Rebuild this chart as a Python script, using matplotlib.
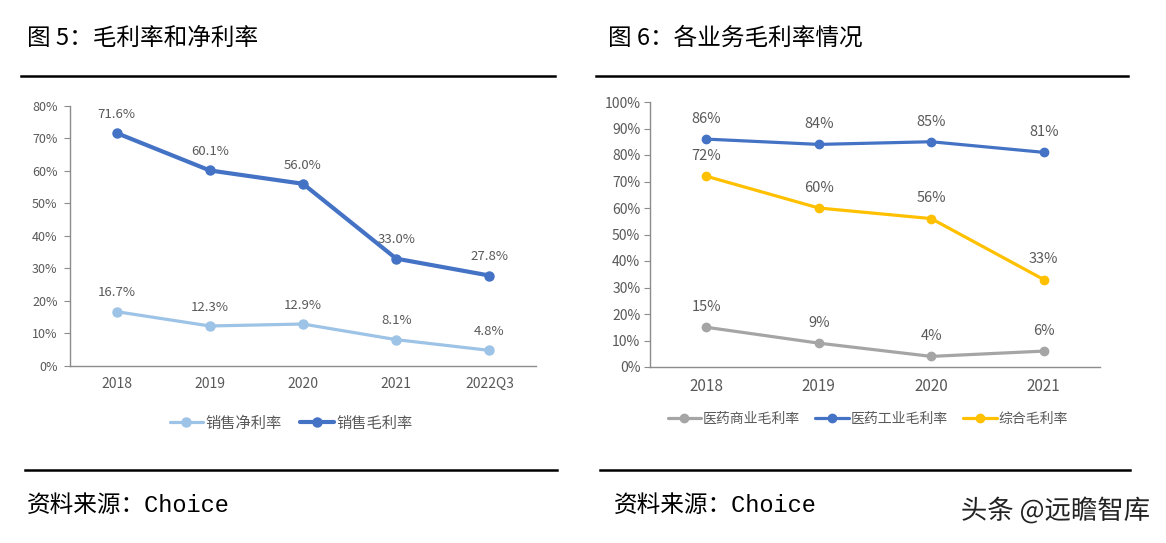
import matplotlib
matplotlib.use('Agg')
import matplotlib.pyplot as plt
from matplotlib.lines import Line2D
from matplotlib.ticker import PercentFormatter
import matplotlib.patheffects as pe

plt.rcParams['font.family'] = ['Noto Sans CJK SC', 'DejaVu Sans']

# left chart: 毛利率和净利率
years_left = ['2018', '2019', '2020', '2021', '2022Q3']
net_margin = [16.7, 12.3, 12.9, 8.1, 4.8]
gross_margin = [71.6, 60.1, 56.0, 33.0, 27.8]

# right chart: 各业务毛利率
years_right = ['2018', '2019', '2020', '2021']
commerce_margin = [15, 9, 4, 6]
industry_margin = [86, 84, 85, 81]
overall_margin = [72, 60, 56, 33]

LABEL_GREY = '#595959'
SPINE_GREY = '#8C8C8C'


def StyleAxes(ax, ymax, step, ytick_size, xtick_size, ypad):
    ax.set_ylim(0, ymax)
    ax.set_yticks(range(0, ymax + 1, step))
    ax.yaxis.set_major_formatter(PercentFormatter(decimals=0))
    for side in ['top', 'right']:
        ax.spines[side].set_visible(False)
    for side in ['left', 'bottom']:
        ax.spines[side].set_color(SPINE_GREY)
        ax.spines[side].set_linewidth(1.0)
    ax.tick_params(axis='y', length=4, color=SPINE_GREY, labelsize=ytick_size, labelcolor=LABEL_GREY, pad=ypad)
    ax.tick_params(axis='x', length=0, labelsize=xtick_size, labelcolor=LABEL_GREY, pad=8)


def DrawSeries(ax, cats, values, color, lw, ms, fmt, label, label_size, offset):
    x = list(range(len(cats)))
    ax.plot(x, values, color=color, lw=lw, marker='o', ms=ms, label=label,
            solid_capstyle='round')
    for xi, v in zip(x, values):
        ax.annotate(fmt.format(v), (xi, v), xytext=(0, offset), textcoords='offset points',
                    ha='center', va='center', fontsize=label_size, color=LABEL_GREY)


fig = plt.figure(figsize=(11.66, 5.43), dpi=100)

# left panel
axL = fig.add_axes([70 / 1166, 1 - 366 / 543, 466 / 1166, (366 - 105.7) / 543])
DrawSeries(axL, years_left, net_margin, '#9DC3E6', 2.3, 6.5, '{:.1f}%', '销售净利率', 9.5, 13.5)
DrawSeries(axL, years_left, gross_margin, '#4472C4', 3.0, 6.5, '{:.1f}%', '销售毛利率', 9.5, 13.5)
axL.set_xlim(-0.5, len(years_left) - 0.5)
axL.set_xticks(range(len(years_left)))
axL.set_xticklabels(years_left)
StyleAxes(axL, 80, 10, 9, 10, 5)
axL.legend(loc='center', bbox_to_anchor=(0.474, -0.219), ncol=2, frameon=False,
           fontsize=11, handlelength=2.2, handletextpad=0.15, columnspacing=1.2,
           labelcolor=LABEL_GREY)

# right panel
axR = fig.add_axes([650 / 1166, 1 - 367 / 543, 450 / 1166, (367 - 102) / 543])
DrawSeries(axR, years_right, commerce_margin, '#A5A5A5', 2.3, 6, '{:.0f}%', '医药商业毛利率', 10.5, 14.5)
DrawSeries(axR, years_right, industry_margin, '#4472C4', 2.3, 6, '{:.0f}%', '医药工业毛利率', 10.5, 14.5)
DrawSeries(axR, years_right, overall_margin, '#FFC000', 2.3, 6, '{:.0f}%', '综合毛利率', 10.5, 14.5)
axR.set_xlim(-0.5, len(years_right) - 0.5)
axR.set_xticks(range(len(years_right)))
axR.set_xticklabels(years_right)
StyleAxes(axR, 100, 10, 10, 11, 3)
axR.legend(loc='center', bbox_to_anchor=(0.484, -0.196), ncol=3, frameon=False,
           fontsize=10, handlelength=2.4, handletextpad=0.15, columnspacing=1.1,
           labelcolor=LABEL_GREY)

# titles, rules, sources
fig.text(27 / 1166, 1 - 38 / 543, '图 5：毛利率和净利率', fontsize=17, va='center', ha='left',
         fontweight='light')
fig.text(608 / 1166, 1 - 38 / 543, '图 6：各业务毛利率情况', fontsize=17, va='center', ha='left',
         fontweight='light')

for x0, x1, y in [(21, 555, 76), (596, 1128, 76), (25, 557, 470), (600, 1130, 470)]:
    fig.add_artist(Line2D([x0 / 1166, x1 / 1166], [1 - y / 543, 1 - y / 543],
                          transform=fig.transFigure, color='black', lw=1.8))

for x in [27, 614]:
    fig.text(x / 1166, 1 - 505 / 543, '资料来源：Choice', fontsize=17, va='center', ha='left',
             family=['Liberation Mono', 'Noto Sans CJK SC'], fontweight='light')

fig.text(1150 / 1166, 1 - 511 / 543, '头条 @远瞻智库', fontsize=19, va='center', ha='right',
         color='#222222', path_effects=[pe.withStroke(linewidth=2, foreground='white')])

fig.savefig('out.png', dpi=100, facecolor='white')
